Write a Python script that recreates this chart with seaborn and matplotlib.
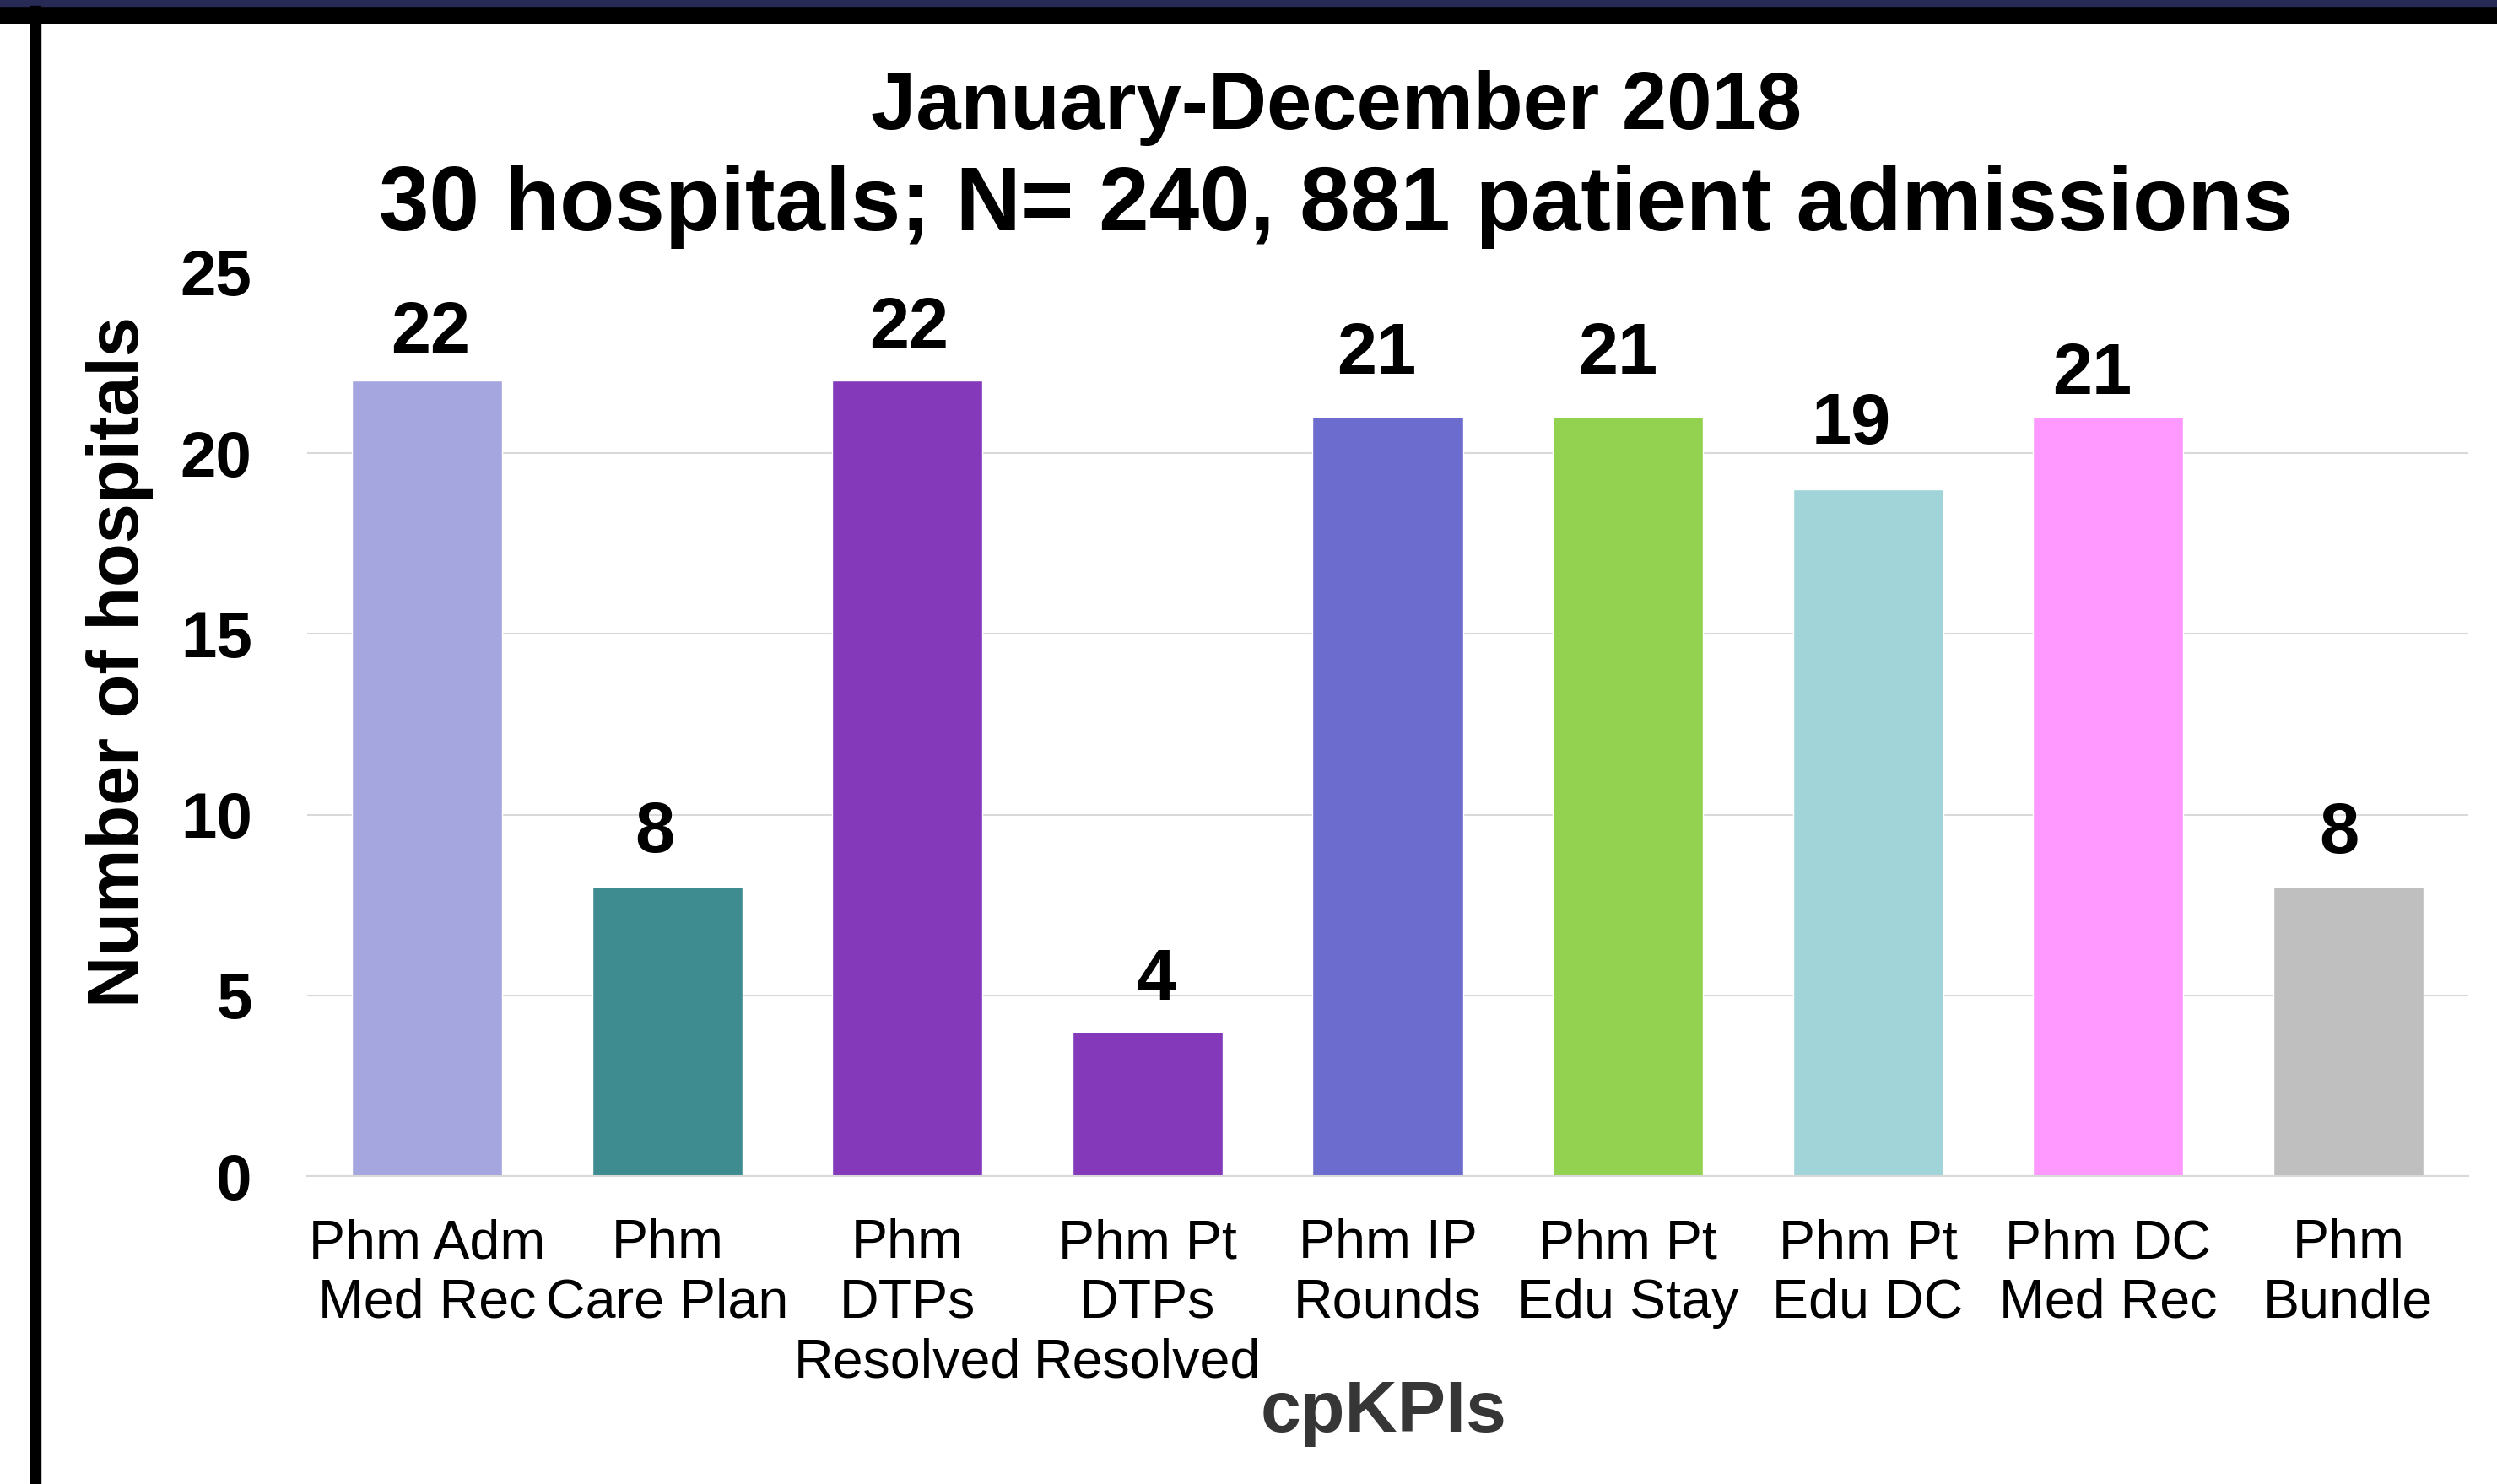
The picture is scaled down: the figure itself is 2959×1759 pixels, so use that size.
import matplotlib
matplotlib.use("Agg")
import matplotlib.pyplot as plt
from matplotlib.patches import Rectangle
import seaborn as sns
import pandas as pd

sns.set_theme(style="white")
plt.rcParams['font.family'] = ['Liberation Sans', 'DejaVu Sans']
plt.rcParams['text.color'] = 'black'
plt.rcParams['xtick.color'] = 'black'
plt.rcParams['ytick.color'] = 'black'

# data
kpis = ["Phm Adm\nMed Rec", "Phm\nCare Plan", "Phm\nDTPs\nResolved", "Phm Pt\nDTPs\nResolved",
        "Phm IP\nRounds", "Phm Pt\nEdu Stay", "Phm Pt\nEdu DC", "Phm DC\nMed Rec", "Phm\nBundle"]
hospitals = [22, 8, 22, 4, 21, 21, 19, 21, 8]
bar_colors = ["#A5A5DF", "#3E8C90", "#8439BB", "#8439BB", "#6B6CCD",
              "#93D150", "#A0D4D8", "#FF99FF", "#BFBFBF"]
yticks = [0, 5, 10, 15, 20, 25]

# label nudges (pixels) - the labels in the original were placed by hand
label_dx = [4, -15, 2, 10, -13, -12, -20, -19, -11]
label_dy = [33, 41, 38, 38, 51, 51, 54, 27, 40]

df = pd.DataFrame({"kpi": kpis, "n": hospitals})

fig = plt.figure(figsize=(29.59, 17.59), dpi=100)
ax = fig.add_axes([0.123, 0.2075, 0.8655, 0.6089])

sns.barplot(data=df, x="kpi", y="n", hue="kpi", palette=bar_colors,
            width=0.626, saturation=1, legend=False, ax=ax)

ax.set_ylim(0, 25)
ax.set_xlim(-0.5, len(kpis) - 0.5)
ax.set_yticks(yticks)
ax.yaxis.grid(True, color="#D9D9D9", linewidth=1.5)
ax.set_axisbelow(True)
for s in ["top", "right", "left"]:
    ax.spines[s].set_visible(False)
ax.spines["bottom"].set_color("#D9D9D9")
ax.spines["bottom"].set_linewidth(1.5)
ax.tick_params(axis="y", length=0, pad=47, labelsize=55)
ax.tick_params(axis="x", length=0, pad=36, labelsize=46.5)
for t in ax.get_yticklabels():
    t.set_fontweight("bold")
for t in ax.get_xticklabels():
    t.set_linespacing(1.23)
ax.set_xlabel("")
ax.set_ylabel("")

for i, v in enumerate(hospitals):
    ax.annotate(str(v), (i, v), xytext=(label_dx[i], label_dy[i]), textcoords="offset pixels",
                ha="center", va="baseline", fontsize=61, fontweight="bold", color="black")

# titles and axis labels
fig.text(0.535, 0.913, "January-December 2018", ha="center", va="baseline",
         fontsize=69, fontweight="bold")
fig.text(0.535, 0.8448, "30 hospitals; N= 240, 881 patient admissions", ha="center",
         va="baseline", fontsize=77, fontweight="bold")
fig.text(0.048, 0.554, "Number of hospitals", rotation=90, ha="center", va="center",
         fontsize=61, fontweight="bold")
fig.text(0.554, 0.0475, "cpKPIs", ha="center", va="center", fontsize=62,
         fontweight="bold", color="#363636")

# slide frame
fig.add_artist(Rectangle((0, 1 - 27 / 1759), 1, 20 / 1759, transform=fig.transFigure,
                         color="black", zorder=10))
fig.add_artist(Rectangle((0, 1 - 7 / 1759), 1, 7 / 1759, transform=fig.transFigure,
                         color="#262A55", zorder=10))
fig.add_artist(Rectangle((36 / 2959, 0), 12 / 2959, 1 - 7 / 1759, transform=fig.transFigure,
                         color="black", zorder=10))

fig.savefig("out.png", dpi=100)
